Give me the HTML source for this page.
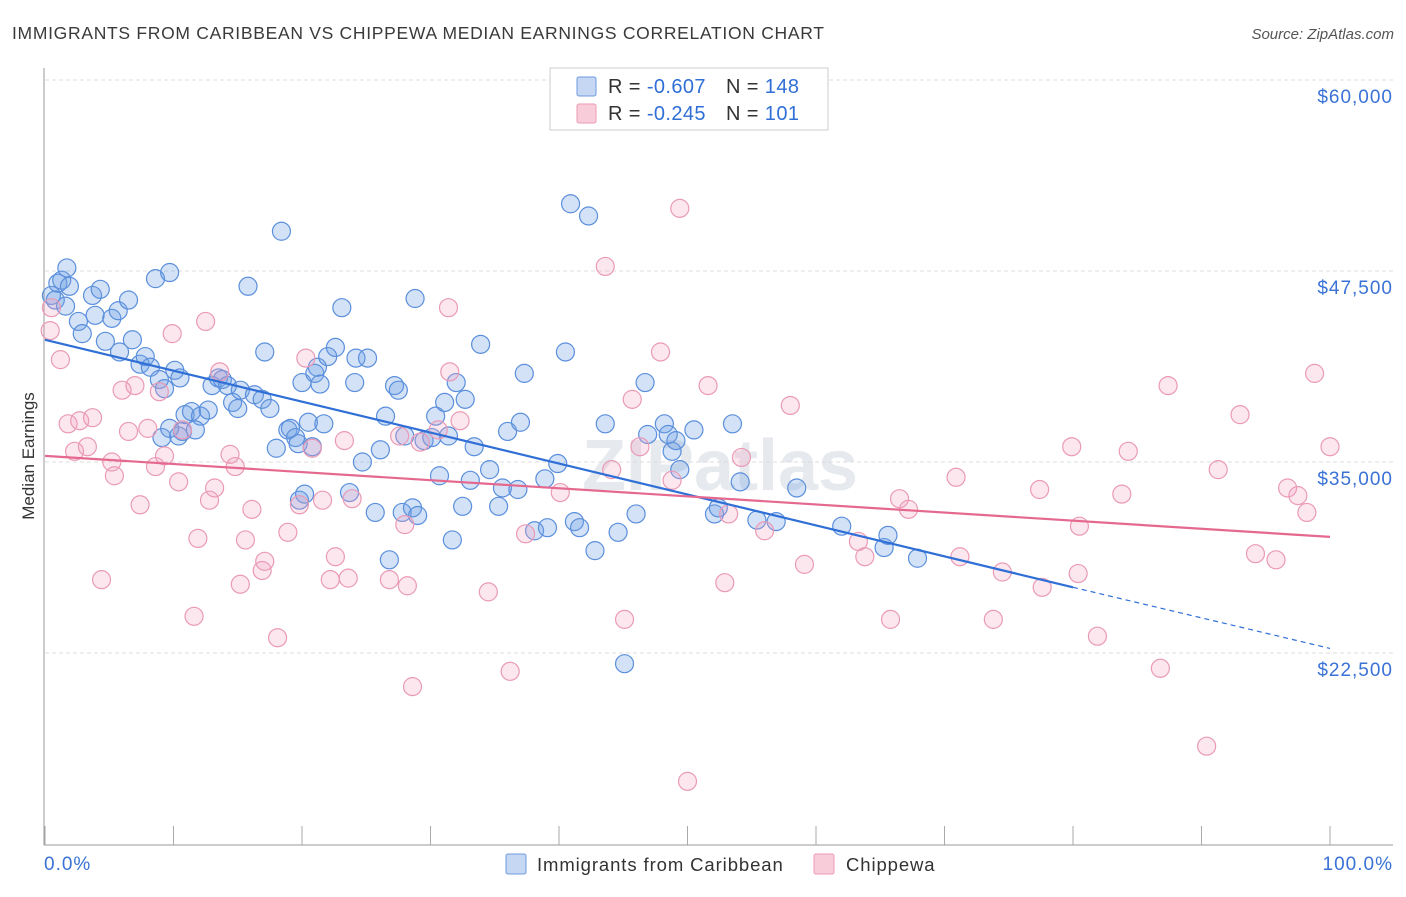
<!DOCTYPE html>
<html><head><meta charset="utf-8"><style>
body{margin:0;background:#fff;font-family:"Liberation Sans",sans-serif;}
svg text{font-family:"Liberation Sans",sans-serif;}
</style></head><body>
<svg id="chart" width="1406" height="892">
<text x="12" y="39" font-size="17.5" letter-spacing="0.7" fill="#3a3a3a">IMMIGRANTS FROM CARIBBEAN VS CHIPPEWA MEDIAN EARNINGS CORRELATION CHART</text>
<text x="1394" y="39" font-size="15" fill="#555" font-style="italic" text-anchor="end">Source: ZipAtlas.com</text>
<text x="720" y="490" font-size="72" fill="#e6e9ee" text-anchor="middle" font-weight="bold">ZIPatlas</text>
<g id="grid"></g><g id="axes"></g><g id="pts"></g><g id="trend"></g>
<text transform="translate(34,456) rotate(-90)" font-size="17" fill="#333" text-anchor="middle">Median Earnings</text>
<g>
<rect x="550" y="68" width="278" height="62" fill="#fff" stroke="#ccc"/>
<rect x="577" y="77" width="19" height="19" fill="#c5d7f3" stroke="#6f9be0" rx="2"/>
<rect x="577" y="104" width="19" height="19" fill="#f8cdd9" stroke="#ec9ab4" rx="2"/>
<text x="608" y="93" font-size="20" letter-spacing="0.4" fill="#333">R = <tspan fill="#2f6fd6">-0.607</tspan><tspan dx="20">N = </tspan><tspan fill="#2f6fd6">148</tspan></text>
<text x="608" y="120" font-size="20" letter-spacing="0.4" fill="#333">R = <tspan fill="#2f6fd6">-0.245</tspan><tspan dx="20">N = </tspan><tspan fill="#2f6fd6"> 101</tspan></text>
</g>
<g>
<rect x="506" y="854" width="20" height="20" fill="#c5d7f3" stroke="#6f9be0" rx="2"/>
<text x="537" y="871" font-size="18.5" letter-spacing="0.9" fill="#333">Immigrants from Caribbean</text>
<rect x="814" y="854" width="20" height="20" fill="#f8cdd9" stroke="#ec9ab4" rx="2"/>
<text x="846" y="871" font-size="18.5" letter-spacing="0.9" fill="#333">Chippewa</text>
</g>
</svg>
<script>
const yTicks=[60000,47500,35000,22500];
const yTickLabels=["$60,000","$47,500","$35,000","$22,500"];
const xTicks=[0,10,20,30,40,50,60,70,80,90,100];
const xTickLabels=["0.0%","100.0%"];
const blueX=[0.5,1.0,1.3,1.7,0.8,1.9,1.6,2.6,2.9,3.7,3.9,4.3,4.7,5.2,5.7,5.8,6.5,6.8,7.4,7.8,8.2,8.6,8.9,9.3,9.7,10.1,10.5,9.1,10.4,10.9,11.4,12.1,12.7,13.0,13.5,13.8,14.2,14.6,15.0,15.2,15.8,16.3,17.1,16.9,17.5,18.0,18.4,18.9,19.1,19.5,19.7,20.0,20.5,20.8,21.0,21.2,21.4,21.7,22.0,22.6,23.1,23.7,24.1,24.2,24.7,25.1,25.7,26.1,26.5,26.8,27.2,27.5,27.8,28.0,28.6,28.8,29.0,29.5,30.1,30.4,30.7,31.1,31.4,31.7,32.0,32.5,32.7,33.1,33.4,33.9,34.6,35.3,35.6,36.0,36.8,37.0,37.3,38.1,38.9,39.1,39.9,40.5,40.9,41.2,41.6,42.3,42.8,43.6,44.6,45.1,46.0,46.7,46.9,48.2,48.5,48.8,49.4,50.5,52.1,52.4,53.5,54.1,55.4,56.9,58.5,62.0,65.3,65.6,67.9,9.7,10.7,11.7,19.8,20.2,49.1];
const blueY=[45.9,46.7,46.9,47.7,45.6,46.5,45.2,44.2,43.4,45.9,44.6,46.3,42.9,44.4,44.9,42.2,45.6,43.0,41.4,41.9,41.2,47.0,40.4,39.8,47.4,41.0,40.5,36.6,36.7,38.1,38.3,38.0,38.4,40.0,40.5,40.4,40.0,38.9,38.5,39.7,46.5,39.4,42.2,39.1,38.5,35.9,50.1,37.1,37.2,36.6,36.2,40.2,37.6,36.0,40.8,41.2,40.1,37.5,41.9,42.5,45.1,33.0,40.2,41.8,35.0,41.8,31.7,35.8,38.0,28.6,40.0,39.7,31.7,36.7,32.0,45.7,31.5,36.4,36.6,38.0,34.1,38.9,36.7,29.9,40.2,32.1,39.1,33.8,36.0,42.7,34.5,32.1,33.3,37.0,33.2,37.6,40.8,30.5,33.9,30.7,34.9,42.2,51.9,31.1,30.7,51.1,29.2,37.5,30.4,21.8,31.6,40.2,36.8,37.5,36.8,35.7,34.5,37.1,31.6,32.0,37.5,33.7,31.2,31.1,33.3,30.8,29.4,30.2,28.7,37.2,37.0,37.1,32.5,32.9,36.4];
const pinkX=[0.5,0.4,1.2,1.8,2.3,2.7,3.3,3.7,4.4,5.2,5.4,6.0,6.5,7.0,7.4,8.0,8.6,8.9,9.3,9.9,10.4,10.7,11.6,11.9,12.5,12.8,13.2,13.6,14.4,14.8,15.2,15.6,16.1,16.9,17.1,18.1,18.9,19.8,20.3,20.8,21.6,22.2,22.6,23.3,23.6,23.9,26.8,27.6,28.0,28.2,28.6,29.2,30.6,31.4,31.5,32.3,34.5,36.2,37.4,40.1,43.6,44.1,45.1,45.7,46.3,47.9,48.8,49.4,51.6,52.9,53.2,54.2,56.0,58.0,59.1,63.3,63.8,65.8,66.5,67.2,70.9,71.2,73.8,74.5,77.4,77.6,79.9,80.5,80.4,81.9,83.8,84.3,86.8,87.4,90.4,91.3,93.0,94.2,95.8,96.7,97.5,98.2,98.8,100,50.0];
const pinkY=[45.1,43.6,41.7,37.5,35.7,37.7,36.0,37.9,27.3,35.0,34.1,39.7,37.0,40.0,32.2,37.2,34.7,39.6,35.4,43.4,33.7,37.1,24.9,30.0,44.2,32.5,33.3,40.9,35.5,34.7,27.0,29.9,31.9,27.9,28.5,23.5,30.4,32.2,41.8,35.9,32.5,27.3,28.8,36.4,27.4,32.6,27.3,36.7,30.9,26.9,20.3,36.3,37.1,45.1,40.9,37.7,26.5,21.3,30.3,33.0,47.8,34.5,24.7,39.1,36.0,42.2,33.8,51.6,40.0,27.1,31.6,35.3,30.5,38.7,28.3,29.8,28.8,24.7,32.6,31.9,34.0,28.8,24.7,27.8,33.2,26.8,36.0,30.8,27.7,23.6,32.9,35.7,21.5,40.0,16.4,34.5,38.1,29.0,28.6,33.3,32.8,31.7,40.8,36.0,14.1];
const blueTrend=[43.0,26.8,22.8]; // at x=0, x=80 (solid end), x=100
const pinkTrend=[35.4,30.1]; // at x=0, x=100
const NS="http://www.w3.org/2000/svg";
const xs=p=>45+p*12.85;
const ys=v=>80+(60000-v)*0.015280;
const yk=v=>ys(v*1000);
function mk(tag,attrs,parent){const e=document.createElementNS(NS,tag);for(const k in attrs)e.setAttribute(k,attrs[k]);document.getElementById(parent).appendChild(e);return e;}
yTicks.forEach((t,i)=>{
  const l=mk('line',{x1:45,x2:1393,y1:ys(t),y2:ys(t),stroke:'#dcdcdc','stroke-dasharray':'4,3'},'grid');
  
  
  const tx=mk('text',{x:1393,y:ys(t)+23,'font-size':19,'letter-spacing':1,fill:'#3a72d6','text-anchor':'end'},'grid');
  tx.textContent=yTickLabels[i];
  
  
});
const ya=mk('line',{x1:44,x2:44,y1:68,y2:845,stroke:'#999'},'axes');


const xa=mk('line',{x1:44,x2:1393,y1:845,y2:845,stroke:'#999'},'axes');


xTicks.forEach(t=>{
  const l=mk('line',{x1:xs(t),x2:xs(t),y1:826,y2:845,stroke:'#aaa'},'axes');
  
  
});
const xl0=mk('text',{x:44,y:870,'font-size':19,'letter-spacing':1,fill:'#3a72d6'},'axes');
xl0.textContent=xTickLabels[0];


const xl1=mk('text',{x:1393,y:870,'font-size':19,'letter-spacing':1,fill:'#3a72d6','text-anchor':'end'},'axes');
xl1.textContent=xTickLabels[1];


blueX.forEach((x,i)=>{
  const c=mk('circle',{cx:xs(x),cy:yk(blueY[i]),r:9,fill:'rgba(110,160,230,0.3)',stroke:'#5b8fdc','stroke-width':1.2},'pts');
  
  
});
pinkX.forEach((x,i)=>{
  const c=mk('circle',{cx:xs(x),cy:yk(pinkY[i]),r:9,fill:'rgba(245,160,190,0.25)',stroke:'#ea9ab5','stroke-width':1.2},'pts');
  
  
});
const bl=mk('line',{x1:xs(0),y1:yk(blueTrend[0]),x2:xs(80),y2:yk(blueTrend[1]),stroke:'#2f6fd6','stroke-width':2.2},'trend');


const bd=mk('line',{x1:xs(80),y1:yk(blueTrend[1]),x2:xs(100),y2:yk(blueTrend[2]),stroke:'#2f6fd6','stroke-width':1.2,'stroke-dasharray':'5,4'},'trend');


const pl=mk('line',{x1:xs(0),y1:yk(pinkTrend[0]),x2:xs(100),y2:yk(pinkTrend[1]),stroke:'#e5688f','stroke-width':2.2},'trend');


</script>
</body></html>
